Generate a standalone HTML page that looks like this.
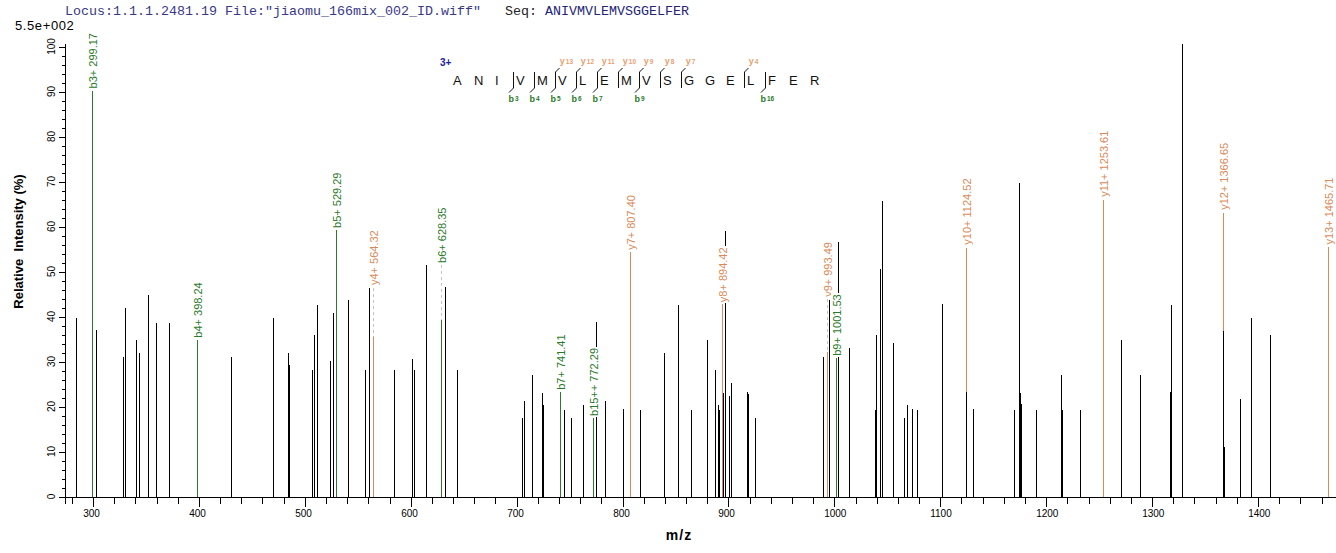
<!DOCTYPE html><html><head><meta charset="utf-8"><style>html,body{margin:0;padding:0;background:#fff;overflow:hidden}svg{display:block}</style></head><body><svg width="1336" height="553" viewBox="0 0 1336 553" shape-rendering="crispEdges">
<rect x="0" y="0" width="1336" height="553" fill="#fff"/>
<rect x="92" y="91" width="1" height="406" fill="#2a7a2a"/>
<rect x="197" y="340" width="1" height="157" fill="#2a7a2a"/>
<rect x="336" y="230" width="1" height="267" fill="#2a7a2a"/>
<rect x="373" y="337" width="1" height="160" fill="#d98a5a"/>
<rect x="441" y="320" width="1" height="177" fill="#2a7a2a"/>
<rect x="560" y="392" width="1" height="105" fill="#2a7a2a"/>
<rect x="593" y="418" width="1" height="79" fill="#2a7a2a"/>
<rect x="630" y="252" width="1" height="245" fill="#d98a5a"/>
<rect x="722" y="304" width="1" height="193" fill="#d98a5a"/>
<rect x="827" y="352" width="1" height="145" fill="#d98a5a"/>
<rect x="836" y="358" width="1" height="139" fill="#2a7a2a"/>
<rect x="966" y="248" width="1" height="249" fill="#d98a5a"/>
<rect x="1103" y="200" width="1" height="297" fill="#d98a5a"/>
<rect x="1223" y="213" width="1" height="284" fill="#d98a5a"/>
<rect x="1328" y="247" width="1" height="250" fill="#d98a5a"/>
<rect x="76" y="318" width="1" height="179" fill="#000"/>
<rect x="96" y="330" width="1" height="167" fill="#000"/>
<rect x="123" y="357" width="1" height="140" fill="#000"/>
<rect x="125" y="308" width="1" height="189" fill="#000"/>
<rect x="136" y="340" width="1" height="157" fill="#000"/>
<rect x="139" y="353" width="1" height="144" fill="#000"/>
<rect x="148" y="295" width="1" height="202" fill="#000"/>
<rect x="156" y="323" width="1" height="174" fill="#000"/>
<rect x="169" y="323" width="1" height="174" fill="#000"/>
<rect x="231" y="357" width="1" height="140" fill="#000"/>
<rect x="273" y="318" width="1" height="179" fill="#000"/>
<rect x="288" y="353" width="1" height="144" fill="#000"/>
<rect x="289" y="365" width="1" height="132" fill="#000"/>
<rect x="312" y="370" width="1" height="127" fill="#000"/>
<rect x="314" y="335" width="1" height="162" fill="#000"/>
<rect x="317" y="305" width="1" height="192" fill="#000"/>
<rect x="330" y="361" width="1" height="136" fill="#000"/>
<rect x="333" y="313" width="1" height="184" fill="#000"/>
<rect x="348" y="300" width="1" height="197" fill="#000"/>
<rect x="365" y="370" width="1" height="127" fill="#000"/>
<rect x="369" y="288" width="1" height="209" fill="#000"/>
<rect x="394" y="370" width="1" height="127" fill="#000"/>
<rect x="412" y="359" width="1" height="138" fill="#000"/>
<rect x="414" y="370" width="1" height="127" fill="#000"/>
<rect x="426" y="265" width="1" height="232" fill="#000"/>
<rect x="445" y="287" width="1" height="210" fill="#000"/>
<rect x="457" y="370" width="1" height="127" fill="#000"/>
<rect x="522" y="418" width="1" height="79" fill="#000"/>
<rect x="524" y="401" width="1" height="96" fill="#000"/>
<rect x="532" y="375" width="1" height="122" fill="#000"/>
<rect x="542" y="393" width="1" height="104" fill="#000"/>
<rect x="543" y="405" width="1" height="92" fill="#000"/>
<rect x="564" y="410" width="1" height="87" fill="#000"/>
<rect x="571" y="418" width="1" height="79" fill="#000"/>
<rect x="583" y="405" width="1" height="92" fill="#000"/>
<rect x="596" y="322" width="1" height="175" fill="#000"/>
<rect x="605" y="401" width="1" height="96" fill="#000"/>
<rect x="623" y="409" width="1" height="88" fill="#000"/>
<rect x="640" y="410" width="1" height="87" fill="#000"/>
<rect x="664" y="353" width="1" height="144" fill="#000"/>
<rect x="678" y="305" width="1" height="192" fill="#000"/>
<rect x="691" y="410" width="1" height="87" fill="#000"/>
<rect x="707" y="340" width="1" height="157" fill="#000"/>
<rect x="715" y="370" width="1" height="127" fill="#000"/>
<rect x="718" y="405" width="1" height="92" fill="#000"/>
<rect x="719" y="410" width="1" height="87" fill="#000"/>
<rect x="725" y="231" width="1" height="266" fill="#000"/>
<rect x="729" y="396" width="1" height="101" fill="#000"/>
<rect x="723" y="393" width="1" height="104" fill="#000"/>
<rect x="731" y="383" width="1" height="114" fill="#000"/>
<rect x="747" y="392" width="1" height="105" fill="#000"/>
<rect x="748" y="394" width="1" height="103" fill="#000"/>
<rect x="755" y="418" width="1" height="79" fill="#000"/>
<rect x="823" y="357" width="1" height="140" fill="#000"/>
<rect x="829" y="300" width="1" height="197" fill="#000"/>
<rect x="838" y="242" width="1" height="255" fill="#000"/>
<rect x="849" y="348" width="1" height="149" fill="#000"/>
<rect x="875" y="410" width="1" height="87" fill="#000"/>
<rect x="876" y="335" width="1" height="162" fill="#000"/>
<rect x="880" y="269" width="1" height="228" fill="#000"/>
<rect x="882" y="201" width="1" height="296" fill="#000"/>
<rect x="893" y="343" width="1" height="154" fill="#000"/>
<rect x="904" y="418" width="1" height="79" fill="#000"/>
<rect x="907" y="405" width="1" height="92" fill="#000"/>
<rect x="912" y="409" width="1" height="88" fill="#000"/>
<rect x="917" y="410" width="1" height="87" fill="#000"/>
<rect x="942" y="304" width="1" height="193" fill="#000"/>
<rect x="966" y="392" width="1" height="105" fill="#000"/>
<rect x="973" y="409" width="1" height="88" fill="#000"/>
<rect x="1014" y="410" width="1" height="87" fill="#000"/>
<rect x="1019" y="183" width="1" height="314" fill="#000"/>
<rect x="1020" y="393" width="1" height="104" fill="#000"/>
<rect x="1021" y="404" width="1" height="93" fill="#000"/>
<rect x="1036" y="410" width="1" height="87" fill="#000"/>
<rect x="1061" y="375" width="1" height="122" fill="#000"/>
<rect x="1062" y="410" width="1" height="87" fill="#000"/>
<rect x="1080" y="410" width="1" height="87" fill="#000"/>
<rect x="1121" y="340" width="1" height="157" fill="#000"/>
<rect x="1140" y="375" width="1" height="122" fill="#000"/>
<rect x="1170" y="392" width="1" height="105" fill="#000"/>
<rect x="1171" y="305" width="1" height="192" fill="#000"/>
<rect x="1182" y="44" width="1" height="453" fill="#000"/>
<rect x="1224" y="447" width="1" height="50" fill="#000"/>
<rect x="1240" y="399" width="1" height="98" fill="#000"/>
<rect x="1251" y="318" width="1" height="179" fill="#000"/>
<rect x="1270" y="335" width="1" height="162" fill="#000"/>
<rect x="1223" y="331" width="1" height="166" fill="#000"/>
<g transform="translate(97.2,88.4) rotate(-90)"><rect x="-1" y="-10" width="57.4" height="12" fill="#fff"/><text x="0" y="0" fill="#2a7a2a" font-family="Liberation Sans" font-size="11">b3+ 299.17</text></g>
<g transform="translate(202.2,337.7) rotate(-90)"><rect x="-1" y="-10" width="57.4" height="12" fill="#fff"/><text x="0" y="0" fill="#2a7a2a" font-family="Liberation Sans" font-size="11">b4+ 398.24</text></g>
<g transform="translate(341.2,227.95) rotate(-90)"><rect x="-1" y="-10" width="57.4" height="12" fill="#fff"/><text x="0" y="0" fill="#2a7a2a" font-family="Liberation Sans" font-size="11">b5+ 529.29</text></g>
<line x1="373.5" y1="287.55" x2="373.5" y2="337" stroke="#c4c4c4" stroke-width="1" stroke-dasharray="3,3"/>
<g transform="translate(378.2,285.05) rotate(-90)"><rect x="-1" y="-10" width="56.7" height="12" fill="#fff"/><text x="0" y="0" fill="#d98a5a" font-family="Liberation Sans" font-size="11">y4+ 564.32</text></g>
<line x1="441.5" y1="265.4" x2="441.5" y2="320" stroke="#c4c4c4" stroke-width="1" stroke-dasharray="3,3"/>
<g transform="translate(446.2,262.9) rotate(-90)"><rect x="-1" y="-10" width="57.4" height="12" fill="#fff"/><text x="0" y="0" fill="#2a7a2a" font-family="Liberation Sans" font-size="11">b6+ 628.35</text></g>
<g transform="translate(565.2,389.8) rotate(-90)"><rect x="-1" y="-10" width="57.4" height="12" fill="#fff"/><text x="0" y="0" fill="#2a7a2a" font-family="Liberation Sans" font-size="11">b7+ 741.41</text></g>
<g transform="translate(598.2,415.9) rotate(-90)"><rect x="-1" y="-10" width="69.9" height="12" fill="#fff"/><text x="0" y="0" fill="#2a7a2a" font-family="Liberation Sans" font-size="11">b15++ 772.29</text></g>
<g transform="translate(635.2,249.85) rotate(-90)"><rect x="-1" y="-10" width="56.7" height="12" fill="#fff"/><text x="0" y="0" fill="#d98a5a" font-family="Liberation Sans" font-size="11">y7+ 807.40</text></g>
<g transform="translate(727.2,302.15) rotate(-90)"><rect x="-1" y="-10" width="56.7" height="12" fill="#fff"/><text x="0" y="0" fill="#d98a5a" font-family="Liberation Sans" font-size="11">y8+ 894.42</text></g>
<line x1="827.5" y1="299.35" x2="827.5" y2="352" stroke="#c4c4c4" stroke-width="1" stroke-dasharray="3,3"/>
<g transform="translate(832.2,296.85) rotate(-90)"><rect x="-1" y="-10" width="56.7" height="12" fill="#fff"/><text x="0" y="0" fill="#d98a5a" font-family="Liberation Sans" font-size="11">y9+ 993.49</text></g>
<g transform="translate(841.2,355.8) rotate(-90)"><rect x="-1" y="-10" width="63.5" height="12" fill="#fff"/><text x="0" y="0" fill="#2a7a2a" font-family="Liberation Sans" font-size="11">b9+ 1001.53</text></g>
<g transform="translate(971.2,244.65) rotate(-90)"><rect x="-1" y="-10" width="68.2" height="12" fill="#fff"/><text x="0" y="0" fill="#d98a5a" font-family="Liberation Sans" font-size="11">y10+ 1124.52</text></g>
<g transform="translate(1108.2,196.85) rotate(-90)"><rect x="-1" y="-10" width="68.2" height="12" fill="#fff"/><text x="0" y="0" fill="#d98a5a" font-family="Liberation Sans" font-size="11">y11+ 1253.61</text></g>
<g transform="translate(1228.2,209.85) rotate(-90)"><rect x="-1" y="-10" width="69.0" height="12" fill="#fff"/><text x="0" y="0" fill="#d98a5a" font-family="Liberation Sans" font-size="11">y12+ 1366.65</text></g>
<g transform="translate(1333.2,244.5) rotate(-90)"><rect x="-1" y="-10" width="69.0" height="12" fill="#fff"/><text x="0" y="0" fill="#d98a5a" font-family="Liberation Sans" font-size="11">y13+ 1465.71</text></g>
<rect x="65" y="44" width="1" height="460" fill="#000"/>
<rect x="59" y="497" width="1277" height="1" fill="#000"/>
<rect x="59" y="497" width="6" height="1" fill="#000"/>
<text transform="translate(55,496.5) rotate(-90)" text-anchor="middle" font-family="Liberation Sans" font-size="10" fill="#000">0</text>
<rect x="62" y="488" width="3" height="1" fill="#000"/>
<rect x="62" y="479" width="3" height="1" fill="#000"/>
<rect x="62" y="470" width="3" height="1" fill="#000"/>
<rect x="62" y="461" width="3" height="1" fill="#000"/>
<rect x="59" y="452" width="6" height="1" fill="#000"/>
<text transform="translate(55,451.5) rotate(-90)" text-anchor="middle" font-family="Liberation Sans" font-size="10" fill="#000">10</text>
<rect x="62" y="443" width="3" height="1" fill="#000"/>
<rect x="62" y="434" width="3" height="1" fill="#000"/>
<rect x="62" y="425" width="3" height="1" fill="#000"/>
<rect x="62" y="416" width="3" height="1" fill="#000"/>
<rect x="59" y="407" width="6" height="1" fill="#000"/>
<text transform="translate(55,406.5) rotate(-90)" text-anchor="middle" font-family="Liberation Sans" font-size="10" fill="#000">20</text>
<rect x="62" y="398" width="3" height="1" fill="#000"/>
<rect x="62" y="389" width="3" height="1" fill="#000"/>
<rect x="62" y="380" width="3" height="1" fill="#000"/>
<rect x="62" y="371" width="3" height="1" fill="#000"/>
<rect x="59" y="362" width="6" height="1" fill="#000"/>
<text transform="translate(55,361.5) rotate(-90)" text-anchor="middle" font-family="Liberation Sans" font-size="10" fill="#000">30</text>
<rect x="62" y="353" width="3" height="1" fill="#000"/>
<rect x="62" y="344" width="3" height="1" fill="#000"/>
<rect x="62" y="335" width="3" height="1" fill="#000"/>
<rect x="62" y="326" width="3" height="1" fill="#000"/>
<rect x="59" y="317" width="6" height="1" fill="#000"/>
<text transform="translate(55,316.5) rotate(-90)" text-anchor="middle" font-family="Liberation Sans" font-size="10" fill="#000">40</text>
<rect x="62" y="308" width="3" height="1" fill="#000"/>
<rect x="62" y="299" width="3" height="1" fill="#000"/>
<rect x="62" y="290" width="3" height="1" fill="#000"/>
<rect x="62" y="281" width="3" height="1" fill="#000"/>
<rect x="59" y="272" width="6" height="1" fill="#000"/>
<text transform="translate(55,271.5) rotate(-90)" text-anchor="middle" font-family="Liberation Sans" font-size="10" fill="#000">50</text>
<rect x="62" y="263" width="3" height="1" fill="#000"/>
<rect x="62" y="254" width="3" height="1" fill="#000"/>
<rect x="62" y="245" width="3" height="1" fill="#000"/>
<rect x="62" y="236" width="3" height="1" fill="#000"/>
<rect x="59" y="227" width="6" height="1" fill="#000"/>
<text transform="translate(55,226.5) rotate(-90)" text-anchor="middle" font-family="Liberation Sans" font-size="10" fill="#000">60</text>
<rect x="62" y="218" width="3" height="1" fill="#000"/>
<rect x="62" y="209" width="3" height="1" fill="#000"/>
<rect x="62" y="200" width="3" height="1" fill="#000"/>
<rect x="62" y="191" width="3" height="1" fill="#000"/>
<rect x="59" y="182" width="6" height="1" fill="#000"/>
<text transform="translate(55,181.5) rotate(-90)" text-anchor="middle" font-family="Liberation Sans" font-size="10" fill="#000">70</text>
<rect x="62" y="173" width="3" height="1" fill="#000"/>
<rect x="62" y="164" width="3" height="1" fill="#000"/>
<rect x="62" y="155" width="3" height="1" fill="#000"/>
<rect x="62" y="146" width="3" height="1" fill="#000"/>
<rect x="59" y="137" width="6" height="1" fill="#000"/>
<text transform="translate(55,136.5) rotate(-90)" text-anchor="middle" font-family="Liberation Sans" font-size="10" fill="#000">80</text>
<rect x="62" y="128" width="3" height="1" fill="#000"/>
<rect x="62" y="119" width="3" height="1" fill="#000"/>
<rect x="62" y="110" width="3" height="1" fill="#000"/>
<rect x="62" y="101" width="3" height="1" fill="#000"/>
<rect x="59" y="92" width="6" height="1" fill="#000"/>
<text transform="translate(55,91.5) rotate(-90)" text-anchor="middle" font-family="Liberation Sans" font-size="10" fill="#000">90</text>
<rect x="62" y="83" width="3" height="1" fill="#000"/>
<rect x="62" y="74" width="3" height="1" fill="#000"/>
<rect x="62" y="65" width="3" height="1" fill="#000"/>
<rect x="62" y="56" width="3" height="1" fill="#000"/>
<rect x="59" y="47" width="6" height="1" fill="#000"/>
<text transform="translate(55,46.5) rotate(-90)" text-anchor="middle" font-family="Liberation Sans" font-size="10" fill="#000">100</text>
<rect x="72" y="497" width="1" height="7" fill="#000"/>
<rect x="93" y="497" width="1" height="10" fill="#000"/>
<text x="83.2" y="517" font-family="Liberation Sans" font-size="10" fill="#000">300</text>
<rect x="114" y="497" width="1" height="7" fill="#000"/>
<rect x="135" y="497" width="1" height="7" fill="#000"/>
<rect x="157" y="497" width="1" height="7" fill="#000"/>
<rect x="178" y="497" width="1" height="7" fill="#000"/>
<rect x="199" y="497" width="1" height="10" fill="#000"/>
<text x="189.2" y="517" font-family="Liberation Sans" font-size="10" fill="#000">400</text>
<rect x="220" y="497" width="1" height="7" fill="#000"/>
<rect x="241" y="497" width="1" height="7" fill="#000"/>
<rect x="262" y="497" width="1" height="7" fill="#000"/>
<rect x="284" y="497" width="1" height="7" fill="#000"/>
<rect x="305" y="497" width="1" height="10" fill="#000"/>
<text x="295.2" y="517" font-family="Liberation Sans" font-size="10" fill="#000">500</text>
<rect x="326" y="497" width="1" height="7" fill="#000"/>
<rect x="347" y="497" width="1" height="7" fill="#000"/>
<rect x="368" y="497" width="1" height="7" fill="#000"/>
<rect x="390" y="497" width="1" height="7" fill="#000"/>
<rect x="411" y="497" width="1" height="10" fill="#000"/>
<text x="401.2" y="517" font-family="Liberation Sans" font-size="10" fill="#000">600</text>
<rect x="432" y="497" width="1" height="7" fill="#000"/>
<rect x="453" y="497" width="1" height="7" fill="#000"/>
<rect x="474" y="497" width="1" height="7" fill="#000"/>
<rect x="495" y="497" width="1" height="7" fill="#000"/>
<rect x="517" y="497" width="1" height="10" fill="#000"/>
<text x="507.2" y="517" font-family="Liberation Sans" font-size="10" fill="#000">700</text>
<rect x="538" y="497" width="1" height="7" fill="#000"/>
<rect x="559" y="497" width="1" height="7" fill="#000"/>
<rect x="580" y="497" width="1" height="7" fill="#000"/>
<rect x="601" y="497" width="1" height="7" fill="#000"/>
<rect x="623" y="497" width="1" height="10" fill="#000"/>
<text x="613.2" y="517" font-family="Liberation Sans" font-size="10" fill="#000">800</text>
<rect x="644" y="497" width="1" height="7" fill="#000"/>
<rect x="665" y="497" width="1" height="7" fill="#000"/>
<rect x="686" y="497" width="1" height="7" fill="#000"/>
<rect x="707" y="497" width="1" height="7" fill="#000"/>
<rect x="728" y="497" width="1" height="10" fill="#000"/>
<text x="718.2" y="517" font-family="Liberation Sans" font-size="10" fill="#000">900</text>
<rect x="750" y="497" width="1" height="7" fill="#000"/>
<rect x="771" y="497" width="1" height="7" fill="#000"/>
<rect x="792" y="497" width="1" height="7" fill="#000"/>
<rect x="813" y="497" width="1" height="7" fill="#000"/>
<rect x="834" y="497" width="1" height="10" fill="#000"/>
<text x="824.2" y="517" font-family="Liberation Sans" font-size="10" fill="#000">1000</text>
<rect x="856" y="497" width="1" height="7" fill="#000"/>
<rect x="877" y="497" width="1" height="7" fill="#000"/>
<rect x="898" y="497" width="1" height="7" fill="#000"/>
<rect x="919" y="497" width="1" height="7" fill="#000"/>
<rect x="940" y="497" width="1" height="10" fill="#000"/>
<text x="930.2" y="517" font-family="Liberation Sans" font-size="10" fill="#000">1100</text>
<rect x="961" y="497" width="1" height="7" fill="#000"/>
<rect x="983" y="497" width="1" height="7" fill="#000"/>
<rect x="1004" y="497" width="1" height="7" fill="#000"/>
<rect x="1025" y="497" width="1" height="7" fill="#000"/>
<rect x="1046" y="497" width="1" height="10" fill="#000"/>
<text x="1036.2" y="517" font-family="Liberation Sans" font-size="10" fill="#000">1200</text>
<rect x="1067" y="497" width="1" height="7" fill="#000"/>
<rect x="1089" y="497" width="1" height="7" fill="#000"/>
<rect x="1110" y="497" width="1" height="7" fill="#000"/>
<rect x="1131" y="497" width="1" height="7" fill="#000"/>
<rect x="1152" y="497" width="1" height="10" fill="#000"/>
<text x="1142.2" y="517" font-family="Liberation Sans" font-size="10" fill="#000">1300</text>
<rect x="1173" y="497" width="1" height="7" fill="#000"/>
<rect x="1194" y="497" width="1" height="7" fill="#000"/>
<rect x="1216" y="497" width="1" height="7" fill="#000"/>
<rect x="1237" y="497" width="1" height="7" fill="#000"/>
<rect x="1258" y="497" width="1" height="10" fill="#000"/>
<text x="1248.2" y="517" font-family="Liberation Sans" font-size="10" fill="#000">1400</text>
<rect x="1279" y="497" width="1" height="7" fill="#000"/>
<rect x="1300" y="497" width="1" height="7" fill="#000"/>
<rect x="1322" y="497" width="1" height="7" fill="#000"/>
<text x="679" y="540" text-anchor="middle" font-family="Liberation Sans" font-size="14" font-weight="bold" letter-spacing="1" fill="#000">m/z</text>
<text transform="translate(23,241.5) rotate(-90)" text-anchor="middle" font-family="Liberation Sans" font-size="13" font-weight="bold" fill="#000" xml:space="preserve">Relative  Intensity (%)</text>
<text x="15" y="30" font-family="Liberation Sans" font-size="13" letter-spacing="0.6" fill="#000">5.5e+002</text>
<text x="65" y="15" font-family="Liberation Mono" font-size="13.33" xml:space="preserve"><tspan fill="#383888">Locus:1.1.1.2481.19 File:"jiaomu_166mix_002_ID.wiff"</tspan><tspan fill="#222">   Seq: </tspan><tspan fill="#24247a">ANIVMVLEMVSGGELFER</tspan></text>
<text x="440" y="66" font-family="Liberation Sans" font-size="10" font-weight="bold" fill="#2020a0">3+</text>
<text x="453.0" y="85" font-family="Liberation Sans" font-size="13" fill="#111">A</text>
<text x="474.0" y="85" font-family="Liberation Sans" font-size="13" fill="#111">N</text>
<text x="495.0" y="85" font-family="Liberation Sans" font-size="13" fill="#111">I</text>
<text x="516.0" y="85" font-family="Liberation Sans" font-size="13" fill="#111">V</text>
<text x="537.0" y="85" font-family="Liberation Sans" font-size="13" fill="#111">M</text>
<text x="558.0" y="85" font-family="Liberation Sans" font-size="13" fill="#111">V</text>
<text x="579.0" y="85" font-family="Liberation Sans" font-size="13" fill="#111">L</text>
<text x="600.0" y="85" font-family="Liberation Sans" font-size="13" fill="#111">E</text>
<text x="621.0" y="85" font-family="Liberation Sans" font-size="13" fill="#111">M</text>
<text x="642.0" y="85" font-family="Liberation Sans" font-size="13" fill="#111">V</text>
<text x="663.0" y="85" font-family="Liberation Sans" font-size="13" fill="#111">S</text>
<text x="684.0" y="85" font-family="Liberation Sans" font-size="13" fill="#111">G</text>
<text x="705.0" y="85" font-family="Liberation Sans" font-size="13" fill="#111">G</text>
<text x="726.0" y="85" font-family="Liberation Sans" font-size="13" fill="#111">E</text>
<text x="747.0" y="85" font-family="Liberation Sans" font-size="13" fill="#111">L</text>
<text x="768.0" y="85" font-family="Liberation Sans" font-size="13" fill="#111">F</text>
<text x="789.0" y="85" font-family="Liberation Sans" font-size="13" fill="#111">E</text>
<text x="810.0" y="85" font-family="Liberation Sans" font-size="13" fill="#111">R</text>
<rect x="513" y="72" width="1" height="16" fill="#111"/>
<line x1="513.5" y1="88" x2="509" y2="92.5" stroke="#111" stroke-width="1" shape-rendering="auto"/>
<text x="508.4" y="101.8" font-family="Liberation Sans" font-size="9" font-weight="bold" fill="#2a7a2a">b<tspan font-size="6.5" dx="1" dy="-0.6">3</tspan></text>
<rect x="534" y="72" width="1" height="16" fill="#111"/>
<line x1="534.5" y1="88" x2="530" y2="92.5" stroke="#111" stroke-width="1" shape-rendering="auto"/>
<text x="529.4" y="101.8" font-family="Liberation Sans" font-size="9" font-weight="bold" fill="#2a7a2a">b<tspan font-size="6.5" dx="1" dy="-0.6">4</tspan></text>
<rect x="555" y="72" width="1" height="16" fill="#111"/>
<line x1="555.5" y1="88" x2="551" y2="92.5" stroke="#111" stroke-width="1" shape-rendering="auto"/>
<text x="550.4" y="101.8" font-family="Liberation Sans" font-size="9" font-weight="bold" fill="#2a7a2a">b<tspan font-size="6.5" dx="1" dy="-0.6">5</tspan></text>
<line x1="555.5" y1="72" x2="559.5" y2="68" stroke="#111" stroke-width="1" shape-rendering="auto"/>
<text x="559.8" y="64.3" font-family="Liberation Sans" font-size="9" font-weight="bold" fill="#e8a070">y<tspan font-size="6.5" dx="1" dy="-0.6">13</tspan></text>
<rect x="576" y="72" width="1" height="16" fill="#111"/>
<line x1="576.5" y1="88" x2="572" y2="92.5" stroke="#111" stroke-width="1" shape-rendering="auto"/>
<text x="571.4" y="101.8" font-family="Liberation Sans" font-size="9" font-weight="bold" fill="#2a7a2a">b<tspan font-size="6.5" dx="1" dy="-0.6">6</tspan></text>
<line x1="576.5" y1="72" x2="580.5" y2="68" stroke="#111" stroke-width="1" shape-rendering="auto"/>
<text x="580.8" y="64.3" font-family="Liberation Sans" font-size="9" font-weight="bold" fill="#e8a070">y<tspan font-size="6.5" dx="1" dy="-0.6">12</tspan></text>
<rect x="597" y="72" width="1" height="16" fill="#111"/>
<line x1="597.5" y1="88" x2="593" y2="92.5" stroke="#111" stroke-width="1" shape-rendering="auto"/>
<text x="592.4" y="101.8" font-family="Liberation Sans" font-size="9" font-weight="bold" fill="#2a7a2a">b<tspan font-size="6.5" dx="1" dy="-0.6">7</tspan></text>
<line x1="597.5" y1="72" x2="601.5" y2="68" stroke="#111" stroke-width="1" shape-rendering="auto"/>
<text x="601.8" y="64.3" font-family="Liberation Sans" font-size="9" font-weight="bold" fill="#e8a070">y<tspan font-size="6.5" dx="1" dy="-0.6">11</tspan></text>
<rect x="618" y="72" width="1" height="16" fill="#111"/>
<line x1="618.5" y1="72" x2="622.5" y2="68" stroke="#111" stroke-width="1" shape-rendering="auto"/>
<text x="622.8" y="64.3" font-family="Liberation Sans" font-size="9" font-weight="bold" fill="#e8a070">y<tspan font-size="6.5" dx="1" dy="-0.6">10</tspan></text>
<rect x="639" y="72" width="1" height="16" fill="#111"/>
<line x1="639.5" y1="88" x2="635" y2="92.5" stroke="#111" stroke-width="1" shape-rendering="auto"/>
<text x="634.4" y="101.8" font-family="Liberation Sans" font-size="9" font-weight="bold" fill="#2a7a2a">b<tspan font-size="6.5" dx="1" dy="-0.6">9</tspan></text>
<line x1="639.5" y1="72" x2="643.5" y2="68" stroke="#111" stroke-width="1" shape-rendering="auto"/>
<text x="643.8" y="64.3" font-family="Liberation Sans" font-size="9" font-weight="bold" fill="#e8a070">y<tspan font-size="6.5" dx="1" dy="-0.6">9</tspan></text>
<rect x="660" y="72" width="1" height="16" fill="#111"/>
<line x1="660.5" y1="72" x2="664.5" y2="68" stroke="#111" stroke-width="1" shape-rendering="auto"/>
<text x="664.8" y="64.3" font-family="Liberation Sans" font-size="9" font-weight="bold" fill="#e8a070">y<tspan font-size="6.5" dx="1" dy="-0.6">8</tspan></text>
<rect x="681" y="72" width="1" height="16" fill="#111"/>
<line x1="681.5" y1="72" x2="685.5" y2="68" stroke="#111" stroke-width="1" shape-rendering="auto"/>
<text x="685.8" y="64.3" font-family="Liberation Sans" font-size="9" font-weight="bold" fill="#e8a070">y<tspan font-size="6.5" dx="1" dy="-0.6">7</tspan></text>
<rect x="744" y="72" width="1" height="16" fill="#111"/>
<line x1="744.5" y1="72" x2="748.5" y2="68" stroke="#111" stroke-width="1" shape-rendering="auto"/>
<text x="748.8" y="64.3" font-family="Liberation Sans" font-size="9" font-weight="bold" fill="#e8a070">y<tspan font-size="6.5" dx="1" dy="-0.6">4</tspan></text>
<rect x="765" y="72" width="1" height="16" fill="#111"/>
<line x1="765.5" y1="88" x2="761" y2="92.5" stroke="#111" stroke-width="1" shape-rendering="auto"/>
<text x="760.4" y="101.8" font-family="Liberation Sans" font-size="9" font-weight="bold" fill="#2a7a2a">b<tspan font-size="6.5" dx="1" dy="-0.6">16</tspan></text>
</svg></body></html>
